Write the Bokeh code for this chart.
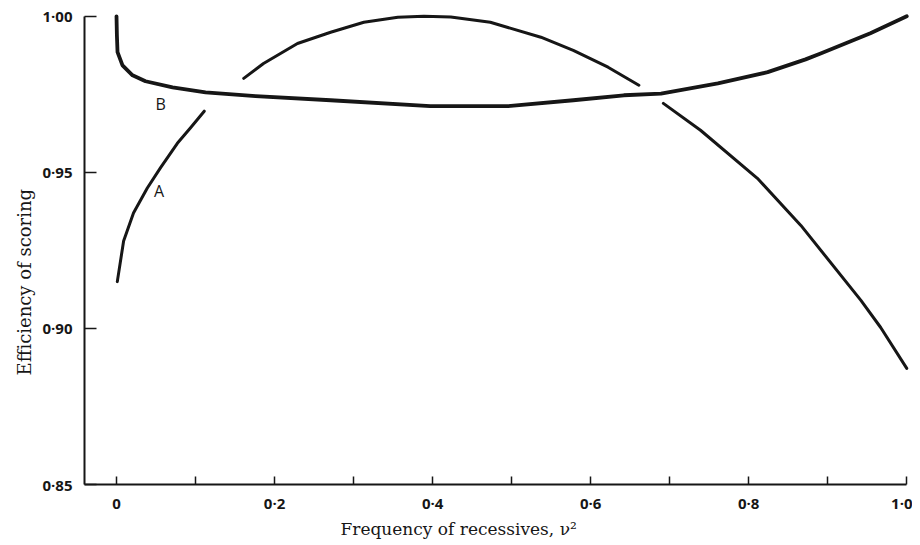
from bokeh.plotting import figure
from bokeh.models import Range1d, FixedTicker, CustomJSTickFormatter, Title
from bokeh.core.properties import value
from bokeh.embed import file_html
from bokeh.resources import INLINE

# ---- data ----
# Curve A (drawn in three pieces, broken where it crosses B)
a1_x = [0.001, 0.009, 0.0215, 0.039, 0.056, 0.077, 0.094, 0.111]
a1_y = [0.915, 0.928, 0.937, 0.945, 0.9516, 0.9593, 0.9644, 0.9696]
a2_x = [0.161, 0.186, 0.229, 0.271, 0.313, 0.356, 0.389, 0.423, 0.473, 0.537, 0.578, 0.622, 0.661]
a2_y = [0.9801, 0.9849, 0.9913, 0.9949, 0.9981, 0.9997, 1.0, 0.9998, 0.9981, 0.9933, 0.9891, 0.9837, 0.9779]
a3_x = [0.692, 0.739, 0.811, 0.866, 0.942, 0.967, 1.0]
a3_y = [0.9721, 0.9635, 0.9481, 0.933, 0.909, 0.9003, 0.8872]
# Curve B
b_x = [0.0, 0.0005, 0.0013, 0.0076, 0.0203, 0.0367, 0.0709, 0.1127, 0.176, 0.271, 0.397,
       0.495, 0.578, 0.642, 0.689, 0.761, 0.824, 0.872, 0.891, 0.954, 1.0]
b_y = [1.0, 0.9939, 0.9885, 0.9843, 0.9811, 0.9792, 0.9772, 0.9756, 0.9744, 0.9731, 0.9712,
       0.9712, 0.9731, 0.9747, 0.9752, 0.9785, 0.9821, 0.9862, 0.9881, 0.9946, 1.0]

curve_labels = ["A", "B"]
curve_label_x = [0.054, 0.056]
curve_label_y = [0.944, 0.9718]

x_major = [0.0, 0.2, 0.4, 0.6, 0.8, 1.0]
x_major_labels = ["0", "0·2", "0·4", "0·6", "0·8", "1·0"]
x_minor = [0.1, 0.3, 0.5, 0.7, 0.9]
y_major = [0.85, 0.90, 0.95, 1.00]
y_major_labels = ["0·85", "0·90", "0·95", "1·00"]

x_title = "Frequency of recessives, ν²"
y_title = "Efficiency of scoring"

INK = "#161616"
TICK_FONT = "Open Sans"
TITLE_FONT = "DejaVu Serif"

p = figure(frame_width=827, frame_height=476,
           x_range=Range1d(-0.0405, 1.006), y_range=Range1d(0.85, 1.0025),
           min_border_left=84, min_border_right=1, min_border_top=8, min_border_bottom=56,
           output_backend="svg", toolbar_location=None)
p.outline_line_color = None
p.xgrid.visible = False
p.ygrid.visible = False
p.background_fill_color = "white"
p.border_fill_color = "white"

fmt_code = """
let best = 0;
for (let i = 0; i < vals.length; i++) {
  if (Math.abs(vals[i] - tick) < Math.abs(vals[best] - tick)) best = i;
}
return labs[best];
"""

xa = p.xaxis[0]
xa.ticker = FixedTicker(ticks=x_major, minor_ticks=x_minor)
xa.formatter = CustomJSTickFormatter(args=dict(vals=x_major, labs=x_major_labels), code=fmt_code)
xa.bounds = (-0.0405, 1.0)
xa.axis_line_width = 2
xa.axis_line_color = INK
xa.major_tick_in = 8
xa.major_tick_out = 0
xa.minor_tick_in = 8
xa.minor_tick_out = 0
xa.major_tick_line_width = 1.5
xa.minor_tick_line_width = 1.5
xa.major_tick_line_color = INK
xa.minor_tick_line_color = INK
xa.major_label_standoff = 8
xa.major_label_text_font = TICK_FONT
xa.major_label_text_font_size = "15px"
xa.major_label_text_font_style = "bold"
xa.major_label_text_color = INK

ya = p.yaxis[0]
ya.ticker = FixedTicker(ticks=y_major)
ya.formatter = CustomJSTickFormatter(args=dict(vals=y_major, labs=y_major_labels), code=fmt_code)
ya.bounds = (0.85, 1.0)
ya.axis_line_width = 2
ya.axis_line_color = INK
ya.major_tick_in = 12
ya.major_tick_out = 0
ya.minor_tick_in = 0
ya.minor_tick_out = 0
ya.major_tick_line_width = 1.5
ya.major_tick_line_color = INK
ya.major_label_standoff = 12
ya.major_label_text_font = TICK_FONT
ya.major_label_text_font_size = "15px"
ya.major_label_text_font_style = "bold"
ya.major_label_text_color = INK

# curves
for xs, ys in [(a1_x, a1_y), (a2_x, a2_y), (a3_x, a3_y)]:
    p.line(xs, ys, line_color=INK, line_width=3, line_cap="round", line_join="round")
p.line(b_x, b_y, line_color=INK, line_width=3.8, line_cap="round", line_join="round")

p.text(x=curve_label_x, y=curve_label_y, text=curve_labels,
       text_font=value(TICK_FONT), text_font_size="16px", text_color=INK,
       text_align="center", text_baseline="middle")

# axis titles (off-centre, as in the reference)
p.add_layout(Title(text=x_title, align="left", offset=256, standoff=3,
                   text_font=TITLE_FONT, text_font_size="17px",
                   text_font_style="normal", text_color=INK), "below")
p.add_layout(Title(text=y_title, align="left", offset=109, standoff=10,
                   text_font=TITLE_FONT, text_font_size="18px",
                   text_font_style="normal", text_color=INK), "left")

open("out.html", "w").write(file_html(p, INLINE))
